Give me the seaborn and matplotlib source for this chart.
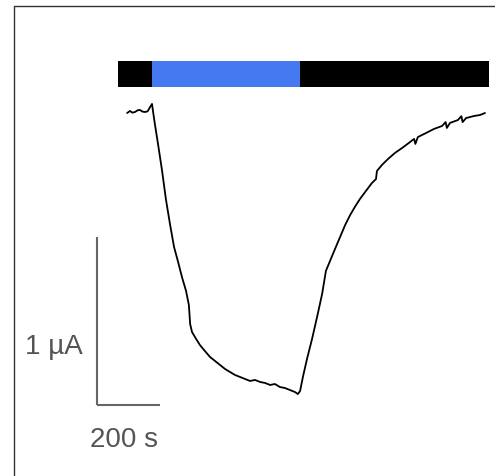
import matplotlib.pyplot as plt
import seaborn as sns
import pandas as pd
from matplotlib.lines import Line2D

# recorded current trace (time in s, current in uA)
time_s = [29, 38, 46, 54, 62, 70, 78, 86, 94, 102, 108, 111, 117, 127, 140, 152, 165, 178,
          190, 203, 216, 225, 229, 235, 248, 260, 276, 292, 308, 324, 340, 356, 371, 387,
          403, 419, 435, 451, 467, 483, 498, 514, 530, 546, 562, 571, 578, 587, 600, 616,
          632, 648, 660, 673, 689, 705, 721, 737, 752, 768, 787, 806, 819, 822, 838, 857,
          879, 902, 927, 940, 944, 952, 978, 1003, 1029, 1040, 1044, 1054, 1079, 1090,
          1094, 1105, 1130, 1149, 1165]
current_ua = [-0.006, 0.006, -0.004, 0.0, 0.010, 0.012, 0.002, 0.0, 0.004, 0.030, 0.048, 0.006,
              -0.071, -0.19, -0.351, -0.518, -0.667, -0.804, -0.887, -0.982, -1.065, -1.149,
              -1.262, -1.310, -1.351, -1.387, -1.423, -1.458, -1.482, -1.506, -1.530, -1.548,
              -1.565, -1.577, -1.589, -1.601, -1.595, -1.607, -1.613, -1.625, -1.619, -1.637,
              -1.643, -1.655, -1.667, -1.679, -1.661, -1.577, -1.470, -1.351, -1.220, -1.083,
              -0.946, -0.887, -0.815, -0.744, -0.673, -0.613, -0.565, -0.518, -0.470, -0.423,
              -0.399, -0.351, -0.315, -0.280, -0.244, -0.214, -0.179, -0.160, -0.190, -0.149,
              -0.125, -0.101, -0.083, -0.060, -0.095, -0.065, -0.048, -0.025, -0.060, -0.036,
              -0.024, -0.018, -0.006]

# stimulus bar segments: start, duration, colour
stim_start = [0, 108, 578]
stim_dur = [108, 470, 600]
stim_color = ['black', '#4479F2', 'black']

scale_t = 200   # s
scale_i = 1     # uA

df = pd.DataFrame({'t': time_s, 'i': current_ua})

sns.set_style('white')
plt.rcParams['font.family'] = ['Liberation Sans', 'DejaVu Sans']

fig = plt.figure(figsize=(4.95, 4.77), dpi=100)
ax = fig.add_axes([0, 0, 1, 1])
ax.set_xlim(-374.6, 1196.8)
ax.set_ylim(-2.1667, 0.6726)
ax.axis('off')

sns.lineplot(data=df, x='t', y='i', color='black', linewidth=1.3, ax=ax)

ax.broken_barh(list(zip(stim_start, stim_dur)), (0.1488, 0.1548),
               facecolors=stim_color, edgecolor='none')

# scale bars
x0, y0 = -66.7, -1.744
ax.plot([x0, x0], [y0, y0 + scale_i], color='#666666', linewidth=1.5, solid_capstyle='butt')
ax.plot([x0, x0 + scale_t], [y0, y0], color='#666666', linewidth=1.5, solid_capstyle='butt')
ax.text(x0 - 44, y0 + 0.35, f'{scale_i} µA', ha='right', va='center',
        fontsize=20, color='#555555')
ax.text(x0 + 86, -1.946, f'{scale_t} s', ha='center', va='center',
        fontsize=20, color='#555555')

# panel frame (left and top edges)
fig.add_artist(Line2D([14 / 495, 14 / 495], [0, 1 - 7 / 477], transform=fig.transFigure,
                      color='#333333', linewidth=1.0))
fig.add_artist(Line2D([14 / 495, 1], [1 - 7 / 477, 1 - 7 / 477], transform=fig.transFigure,
                      color='#333333', linewidth=1.0))

fig.savefig('out.png', dpi=100)
plt.close(fig)
